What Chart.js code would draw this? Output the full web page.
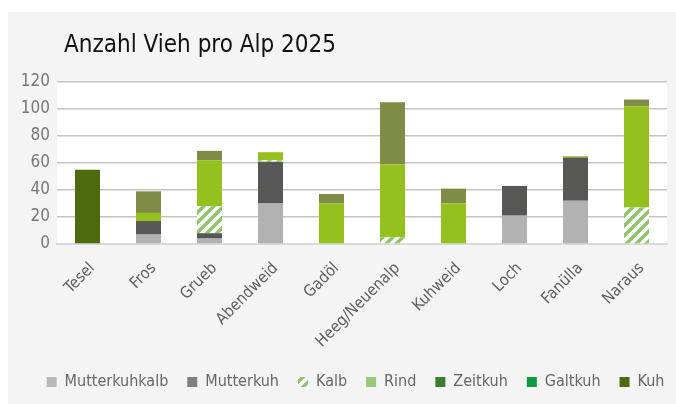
<!DOCTYPE html>
<html>
<head>
<meta charset="utf-8">
<script src="https://cdn.jsdelivr.net/npm/chart.js@4"></script>
<style>
  html, body { margin: 0; padding: 0; background: #fff; }
  body { width: 676px; height: 404px; position: relative; overflow: hidden; }
  .panel { position: absolute; left: 8px; top: 12px; width: 668px; height: 392px; background: #f4f4f4; }
  .title {
    position: absolute; left: 64px; top: 30px;
    font-family: 'Liberation Sans Narrow', 'DejaVu Sans Condensed', Roboto, sans-serif;
    font-size: 24px; color: #111; white-space: nowrap;
  }
  .wrap { position: absolute; left: 8px; top: 12px; width: 668px; height: 392px; }
</style>
</head>
<body>
<div class="panel"></div>
<div class="wrap"><canvas id="chart"></canvas></div>
<div class="title">Anzahl Vieh pro Alp 2025</div>
<script>
const FONT = "'Liberation Sans Narrow', 'DejaVu Sans Condensed', Roboto, sans-serif";

// categories (Alpen)
const alpen = ['Tesel', 'Fros', 'Grueb', 'Abendweid', 'Gadöl', 'Heeg/Neuenalp', 'Kuhweid', 'Loch', 'Fanülla', 'Naraus'];

// values per series
const mutterkuhkalb = [0, 7, 4, 30, 0, 0, 0, 21, 32, 0];
const mutterkuh     = [0, 10, 4, 31, 0, 0, 0, 22, 32, 0];
const kalb          = [0, 0, 20, 1, 0, 5, 0, 0, 0, 27];
const rind          = [0, 6, 34, 6, 30, 54, 30, 0, 1, 75];
const zeitkuh       = [0, 16, 7, 0, 7, 46, 11, 0, 0, 5];
const galtkuh       = [0, 0, 0, 0, 0, 0, 0, 0, 0, 0];
const kuh           = [55, 0, 0, 0, 0, 0, 0, 0, 0, 0];

const yTicks = [0, 20, 40, 60, 80, 100, 120];

function hatch() {
  const c = document.createElement('canvas');
  c.width = 10; c.height = 10;
  const ctx = c.getContext('2d');
  ctx.fillStyle = '#ffffff';
  ctx.fillRect(0, 0, 10, 10);
  ctx.strokeStyle = '#8fc46a';
  ctx.lineWidth = 3.5;
  ctx.beginPath();
  ctx.moveTo(-5, 5); ctx.lineTo(5, -5);
  ctx.moveTo(0, 10); ctx.lineTo(10, 0);
  ctx.moveTo(5, 15); ctx.lineTo(15, 5);
  ctx.stroke();
  return document.getElementById('chart').getContext('2d').createPattern(c, 'repeat');
}

const kalbPattern = hatch();

const series = [
  { label: 'Mutterkuhkalb', data: mutterkuhkalb, color: '#b2b2b2', legend: '#b8b8b8' },
  { label: 'Mutterkuh', data: mutterkuh, color: '#575756', legend: '#808080' },
  { label: 'Kalb', data: kalb, color: kalbPattern, legend: kalbPattern },
  { label: 'Rind', data: rind, color: '#95c11f', legend: '#96c878' },
  { label: 'Zeitkuh', data: zeitkuh, color: '#7f8c47', legend: '#3a7d2f' },
  { label: 'Galtkuh', data: galtkuh, color: '#0e9a43', legend: '#0e9a43' },
  { label: 'Kuh', data: kuh, color: '#4d6a0f', legend: '#4d6a0f' }
];

const plotBg = {
  id: 'plotBg',
  beforeDraw(chart) {
    const { ctx, chartArea: a } = chart;
    ctx.save();
    ctx.fillStyle = '#ffffff';
    ctx.fillRect(a.left, a.top, a.right - a.left, a.bottom - a.top);
    ctx.restore();
  }
};

// the legend sits a bit right of centre in the original
const legendShift = {
  id: 'legendShift',
  afterLayout(chart) {
    chart.legend.left += 18;
    chart.legend.right += 18;
  }
};

new Chart(document.getElementById('chart'), {
  type: 'bar',
  data: {
    labels: alpen,
    datasets: series.map((s) => ({
      label: s.label,
      data: s.data,
      backgroundColor: s.color,
      borderWidth: 0,
      barPercentage: 0.41,
      categoryPercentage: 1
    }))
  },
  options: {
    responsive: true,
    maintainAspectRatio: false,
    animation: false,
    layout: { padding: { top: 70, right: 9, bottom: 4, left: 0 } },
    plugins: {
      tooltip: { enabled: false },
      legend: {
        position: 'bottom',
        labels: {
          color: '#666666',
          font: { family: FONT, size: 16 },
          boxWidth: 10,
          boxHeight: 10,
          padding: 19,
          generateLabels: (chart) => series.map((s, i) => ({
            text: s.label,
            fillStyle: s.legend,
            strokeStyle: s.legend,
            lineWidth: 0,
            hidden: false,
            datasetIndex: i,
            fontColor: '#666666'
          }))
        }
      }
    },
    scales: {
      x: {
        stacked: true,
        grid: { display: false },
        border: { color: '#d9d9d9', width: 2 },
        ticks: {
          color: '#5e5e5e',
          font: { family: FONT, size: 16 },
          minRotation: 45,
          maxRotation: 45,
          padding: 7,
          labelOffset: 5
        },
        afterFit: (axis) => { axis.height = 111; }
      },
      y: {
        stacked: true,
        min: 0,
        max: 120,
        afterBuildTicks: (axis) => { axis.ticks = yTicks.map((v) => ({ value: v })); },
        grid: { color: '#c4c4c4', lineWidth: 1.5, drawTicks: false },
        border: { display: false },
        ticks: {
          color: '#777777',
          font: { family: FONT, size: 17 },
          padding: 7
        },
        afterFit: (axis) => { axis.width = 49; }
      }
    }
  },
  plugins: [plotBg, legendShift]
});
</script>
</body>
</html>
